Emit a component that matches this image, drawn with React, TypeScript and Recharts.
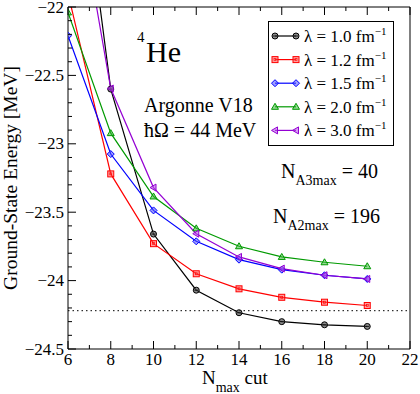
import React from 'react';
import { LineChart, Line, XAxis, YAxis, ReferenceLine, Legend } from 'recharts';

const nmaxCut = [6, 8, 10, 12, 14, 16, 18, 20];

// ground-state energies [MeV] per SRG lambda
const lambda10 = [-20.2, -22.6, -23.66, -24.07, -24.235, -24.3, -24.323, -24.335];
const lambda12 = [-21.9, -23.22, -23.73, -23.95, -24.06, -24.122, -24.158, -24.182];
const lambda15 = [-22.21, -23.075, -23.487, -23.713, -23.847, -23.92, -23.961, -23.988];
const lambda20 = [-22.04, -22.922, -23.385, -23.618, -23.749, -23.827, -23.866, -23.895];
const lambda30 = [-20.8, -22.596, -23.32, -23.657, -23.827, -23.912, -23.961, -23.988];

const exactEnergy = -24.22;

const xTicks = [6, 7, 8, 9, 10, 11, 12, 13, 14, 15, 16, 17, 18, 19, 20, 21, 22];
const yTicks = [
  -24.5, -24.4, -24.3, -24.2, -24.1, -24.0, -23.9, -23.8, -23.7, -23.6, -23.5, -23.4, -23.3,
  -23.2, -23.1, -23.0, -22.9, -22.8, -22.7, -22.6, -22.5, -22.4, -22.3, -22.2, -22.1, -22.0,
];

const seriesInfo = [
  { key: 'l10', label: '1.0', color: '#000000', fill: 'rgba(90,90,90,0.7)', shape: 'circle' },
  { key: 'l12', label: '1.2', color: '#ff0000', fill: 'rgba(255,80,80,0.55)', shape: 'square' },
  { key: 'l15', label: '1.5', color: '#0000ff', fill: 'rgba(80,80,255,0.55)', shape: 'diamond' },
  { key: 'l20', label: '2.0', color: '#009a00', fill: 'rgba(60,180,60,0.55)', shape: 'triUp' },
  { key: 'l30', label: '3.0', color: '#9400d3', fill: 'rgba(180,80,230,0.55)', shape: 'triLeft' },
];

const data = nmaxCut.map((n, i) => ({
  n,
  l10: lambda10[i],
  l12: lambda12[i],
  l15: lambda15[i],
  l20: lambda20[i],
  l30: lambda30[i],
}));

const FONT = '"Liberation Serif", "DejaVu Serif", serif';

const Marker = ({ cx, cy, shape, color, fill }: any) => {
  if (cx == null || cy == null) return null;
  switch (shape) {
    case 'circle':
      return (
        <g>
          <circle cx={cx} cy={cy} r={3} fill={fill} stroke={color} strokeWidth={1} />
          <line x1={cx - 2} y1={cy} x2={cx + 2} y2={cy} stroke={color} strokeWidth={0.8} />
        </g>
      );
    case 'square':
      return (
        <g>
          <rect x={cx - 3} y={cy - 3} width={6} height={6} fill={fill} stroke={color} strokeWidth={1} />
          <rect x={cx - 1} y={cy - 1} width={2} height={2} fill="none" stroke={color} strokeWidth={0.6} />
        </g>
      );
    case 'diamond':
      return (
        <polygon
          points={`${cx},${cy - 3.5} ${cx + 3.5},${cy} ${cx},${cy + 3.5} ${cx - 3.5},${cy}`}
          fill={fill}
          stroke={color}
          strokeWidth={1}
        />
      );
    case 'triUp':
      return (
        <polygon
          points={`${cx},${cy - 3.5} ${cx + 3.5},${cy + 2.5} ${cx - 3.5},${cy + 2.5}`}
          fill={fill}
          stroke={color}
          strokeWidth={1}
        />
      );
    case 'triLeft':
      return (
        <polygon
          points={`${cx - 3.5},${cy} ${cx + 2.5},${cy - 3.5} ${cx + 2.5},${cy + 3.5}`}
          fill={fill}
          stroke={color}
          strokeWidth={1}
        />
      );
    default:
      return null;
  }
};

const isMajorX = (v: number) => Math.round(v) % 2 === 0;
const isMajorY = (v: number) => Math.abs(v * 2 - Math.round(v * 2)) < 1e-6;

const fmtY = (v: number) => {
  const s = Math.abs(v).toString();
  return v < 0 ? '\u2212' + s : s;
};

const BottomTick = ({ x, y, payload }: any) => {
  const major = isMajorX(payload.value);
  return (
    <g>
      <line x1={x} y1={y} x2={x} y2={y - (major ? 8 : 4)} stroke="#000" />
      {major && (
        <text x={x} y={y + 16} textAnchor="middle" fontSize={17} fontFamily={FONT} fill="#000">
          {payload.value}
        </text>
      )}
    </g>
  );
};

const TopTick = ({ x, y, payload }: any) => {
  const major = isMajorX(payload.value);
  return <line x1={x} y1={y} x2={x} y2={y + (major ? 8 : 4)} stroke="#000" />;
};

const LeftTick = ({ x, y, payload }: any) => {
  const major = isMajorY(payload.value);
  return (
    <g>
      <line x1={x} y1={y} x2={x + (major ? 8 : 4)} y2={y} stroke="#000" />
      {major && (
        <text x={x - 4} y={y + 5.5} textAnchor="end" fontSize={17} fontFamily={FONT} fill="#000">
          {fmtY(payload.value)}
        </text>
      )}
    </g>
  );
};

const RightTick = ({ x, y, payload }: any) => {
  const major = isMajorY(payload.value);
  return <line x1={x} y1={y} x2={x - (major ? 8 : 4)} y2={y} stroke="#000" />;
};

const LegendBox = () => (
  <svg width={126} height={125} style={{ display: 'block' }}>
    <rect x={0.5} y={0.5} width={125} height={124} fill="#fff" stroke="#000" strokeWidth={1} />
    {seriesInfo.map((s, i) => {
      const cy = 15 + i * 23.6;
      return (
        <g key={s.key}>
          <line x1={7} y1={cy} x2={28} y2={cy} stroke={s.color} strokeWidth={1.2} />
          <Marker cx={7} cy={cy} shape={s.shape} color={s.color} fill={s.fill} />
          <Marker cx={28} cy={cy} shape={s.shape} color={s.color} fill={s.fill} />
          <text x={36} y={cy + 6} fontSize={17} fontFamily={FONT} fill="#000">
            {'\u03bb = ' + s.label + ' fm'}
            <tspan dy={-7} fontSize={11}>
              {'\u22121'}
            </tspan>
          </text>
        </g>
      );
    })}
  </svg>
);

export default function App() {
  return (
    <div style={{ position: 'absolute', left: 0, top: 0, width: 420, height: 394, background: '#fff', fontFamily: FONT }}>
      <LineChart width={420} height={394} data={data} margin={{ top: 0, right: 0, bottom: 0, left: 0 }}>
        <XAxis
          dataKey="n"
          type="number"
          domain={[6, 22]}
          ticks={xTicks}
          interval={0}
          allowDataOverflow
          height={45}
          tickLine={false}
          tickSize={0}
          tickMargin={0}
          tick={<BottomTick />}
          axisLine={{ stroke: '#000' }}
        />
        <XAxis
          xAxisId="top"
          orientation="top"
          dataKey="n"
          type="number"
          domain={[6, 22]}
          ticks={xTicks}
          interval={0}
          height={7}
          tickLine={false}
          tickSize={0}
          tickMargin={0}
          tick={<TopTick />}
          axisLine={{ stroke: '#000' }}
        />
        <YAxis
          type="number"
          domain={[-24.5, -22]}
          ticks={yTicks}
          interval={0}
          allowDataOverflow
          width={68}
          tickLine={false}
          tickSize={0}
          tickMargin={0}
          tick={<LeftTick />}
          axisLine={{ stroke: '#000' }}
        />
        <YAxis
          yAxisId="right"
          orientation="right"
          type="number"
          domain={[-24.5, -22]}
          ticks={yTicks}
          interval={0}
          width={10}
          tickLine={false}
          tickSize={0}
          tickMargin={0}
          tick={<RightTick />}
          axisLine={{ stroke: '#000' }}
        />
        <ReferenceLine y={exactEnergy} stroke="#000" strokeDasharray="1.5 3" strokeWidth={1} />
        {seriesInfo.map((s) => (
          <Line
            key={s.key}
            dataKey={s.key}
            stroke={s.color}
            strokeWidth={1.2}
            isAnimationActive={false}
            dot={(p: any) => <Marker key={p.index} cx={p.cx} cy={p.cy} shape={s.shape} color={s.color} fill={s.fill} />}
            activeDot={false}
          />
        ))}
        <Legend
          layout="vertical"
          align="center"
          verticalAlign="middle"
          content={<LegendBox />}
          wrapperStyle={{ position: 'absolute', left: 268, top: 21, width: 126, height: 125 }}
        />
        <text x={17} y={178} transform="rotate(-90 17 178)" textAnchor="middle" fontSize={19.5} fontFamily={FONT} fill="#000">
          Ground-State Energy [MeV]
        </text>
        <text x={202} y={384} fontSize={19} fontFamily={FONT} fill="#000">
          N
          <tspan dy={8} fontSize={14}>max</tspan>
          <tspan dy={-8} fontSize={19}>{' cut'}</tspan>
        </text>
        <text x={137} y={42} fontSize={15} fontFamily={FONT} fill="#000">4</text>
        <text x={146} y={62} fontSize={30} fontFamily={FONT} fill="#000">He</text>
        <text x={144} y={112} fontSize={20} fontFamily={FONT} fill="#000">Argonne V18</text>
        <text x={144} y={137} fontSize={20} fontFamily={FONT} fill="#000">{'\u0127\u03a9 = 44 MeV'}</text>
        <text x={281} y={178} fontSize={20} fontFamily={FONT} fill="#000">
          N
          <tspan dy={7} fontSize={14}>A3max</tspan>
          <tspan dy={-7} fontSize={20}>{' = 40'}</tspan>
        </text>
        <text x={273} y={223} fontSize={20} fontFamily={FONT} fill="#000">
          N
          <tspan dy={7} fontSize={14}>A2max</tspan>
          <tspan dy={-7} fontSize={20}>{' = 196'}</tspan>
        </text>
      </LineChart>
    </div>
  );
}
